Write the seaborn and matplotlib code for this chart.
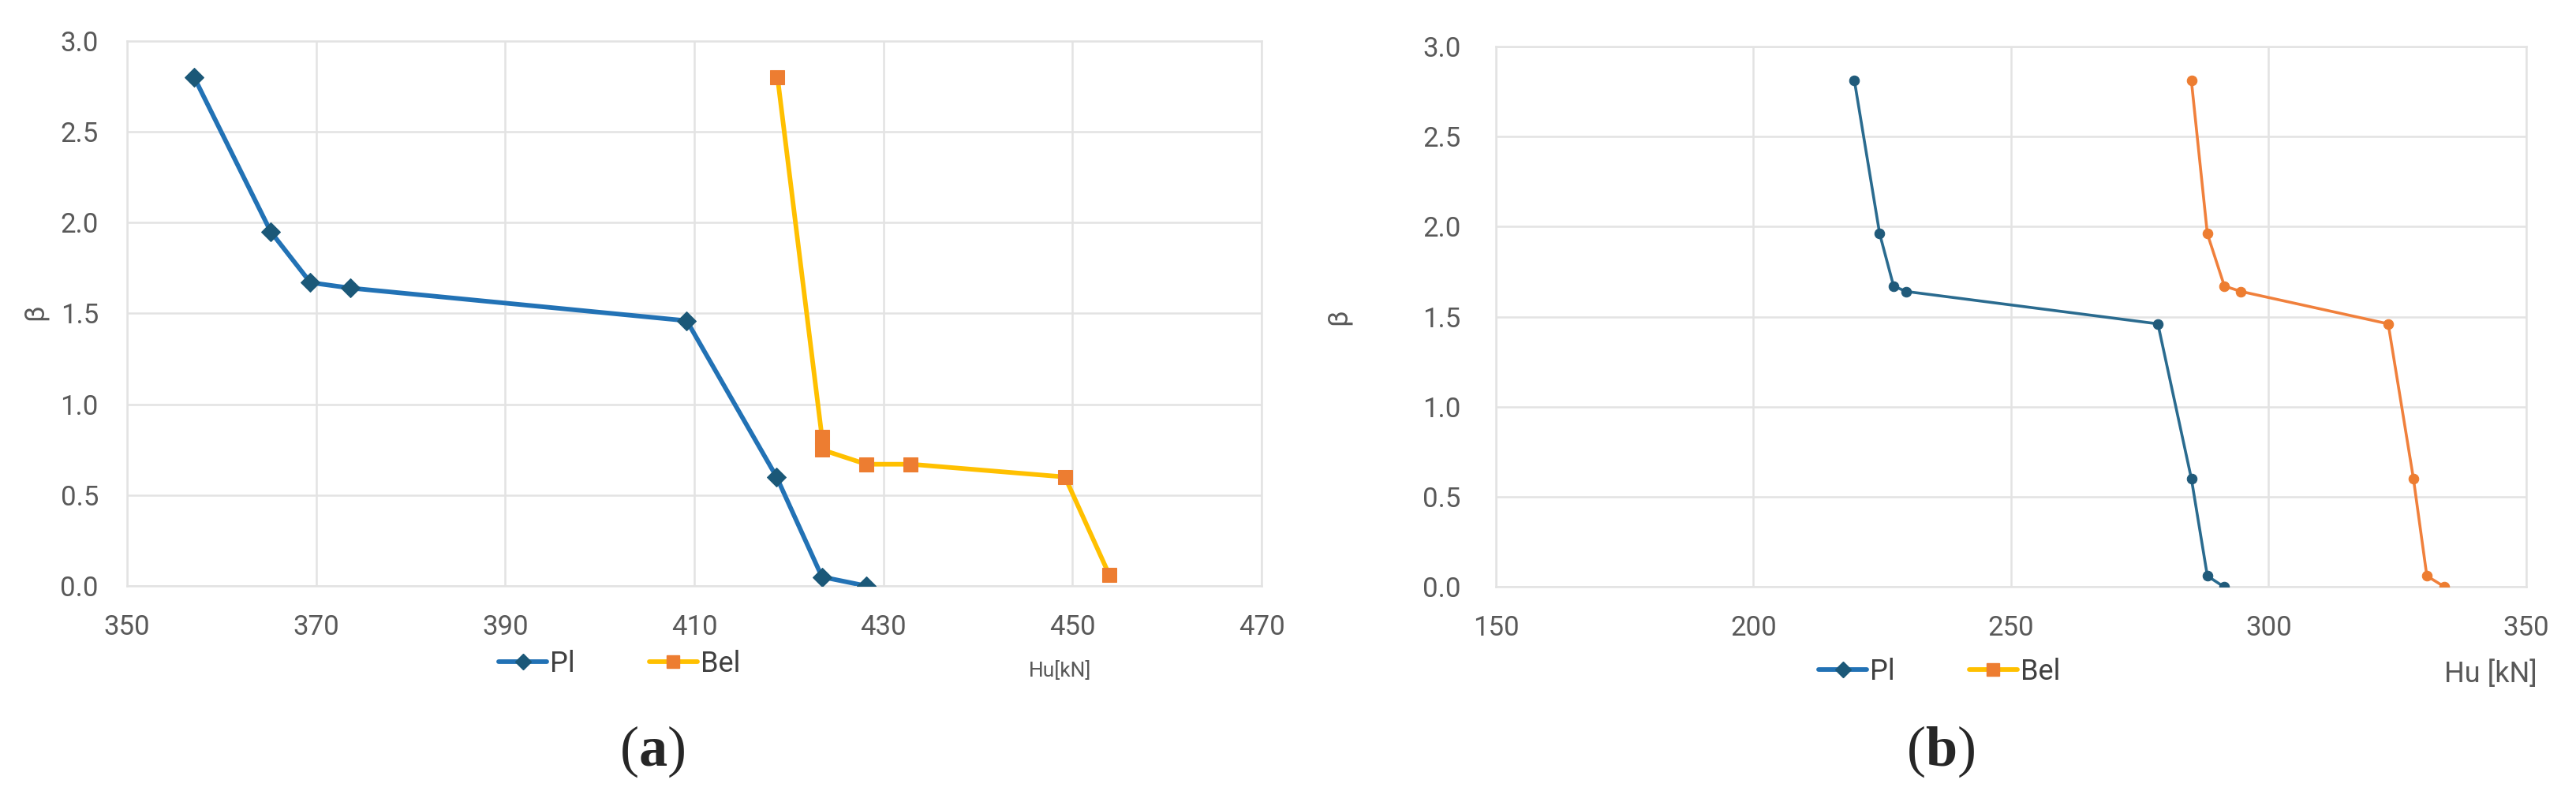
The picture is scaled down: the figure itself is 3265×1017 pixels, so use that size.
import numpy as np
import pandas as pd
import matplotlib
matplotlib.use("Agg")
import matplotlib.pyplot as plt
import seaborn as sns
from matplotlib.lines import Line2D

sns.set_style("white")
plt.rcParams["font.family"] = ["Liberation Sans Narrow", "Roboto", "DejaVu Sans"]
plt.rcParams["mathtext.fontset"] = "custom"
plt.rcParams["mathtext.rm"] = "Liberation Serif"
plt.rcParams["mathtext.bf"] = "Liberation Serif:bold"

# %% Datos ----------------------------------------------------------------------
# (a)
hu_pl_a = [357.1, 365.2, 369.4, 373.6, 409.2, 418.7, 423.5, 428.2]
beta_pl_a = [2.80, 1.95, 1.67, 1.64, 1.46, 0.60, 0.05, 0.00]
hu_bel_a = [418.8, 423.5, 423.5, 428.2, 432.9, 449.2, 453.9]
beta_bel_a = [2.80, 0.82, 0.75, 0.67, 0.67, 0.60, 0.06]

# (b)
hu_pl_b = [219.6, 224.5, 227.2, 229.6, 278.5, 285.0, 288.1, 291.3]
beta_pl_b = [2.81, 1.96, 1.67, 1.64, 1.46, 0.60, 0.06, 0.00]
hu_bel_b = [285.0, 288.1, 291.4, 294.6, 323.2, 328.1, 330.7, 334.1]
beta_bel_b = [2.81, 1.96, 1.67, 1.64, 1.46, 0.60, 0.06, 0.00]

y_ticks = [0.0, 0.5, 1.0, 1.5, 2.0, 2.5, 3.0]
x_ticks_a = [350, 370, 390, 410, 430, 450, 470]
x_ticks_b = [150, 200, 250, 300, 350]

GRIS_GRID = "#e3e3e3"
GRIS_TXT = "#595959"

fig = plt.figure(figsize=(32.66, 10.17), dpi=100)
ax_a = fig.add_axes([0.0493, 0.2694, 0.4403, 0.6795])
ax_b = fig.add_axes([0.5805, 0.2684, 0.3999, 0.6736])


def estilo_ejes(ax, xticks, xlim):
    ax.set_xlim(*xlim)
    ax.set_ylim(0, 3.0)
    ax.set_xticks(xticks)
    ax.set_yticks(y_ticks)
    ax.set_yticklabels([f"{v:.1f}" for v in y_ticks])
    ax.grid(True, color=GRIS_GRID, linewidth=1.8)
    for s in ax.spines.values():
        s.set_color(GRIS_GRID)
        s.set_linewidth(1.8)
    ax.tick_params(axis="both", length=0, labelsize=25, labelcolor=GRIS_TXT)
    ax.tick_params(axis="x", pad=26)
    ax.set_xlabel("")
    ax.set_ylabel("")


# %% (a) ---------------------------------------------------------------------
sns.lineplot(x=hu_pl_a, y=beta_pl_a, ax=ax_a, sort=False, estimator=None,
             color="#2272b5", linewidth=4.2, marker="D", markersize=12,
             markerfacecolor="#1b5878", markeredgecolor="#1b5878", zorder=3)
sns.lineplot(x=hu_bel_a, y=beta_bel_a, ax=ax_a, sort=False, estimator=None,
             color="#ffc000", linewidth=4.2, marker="s", markersize=13,
             markerfacecolor="#ed7d31", markeredgecolor="#ed7d31", zorder=3)
estilo_ejes(ax_a, x_ticks_a, (350, 470))
ax_a.tick_params(axis="y", pad=26)

# %% (b) ---------------------------------------------------------------------
sns.lineplot(x=hu_pl_b, y=beta_pl_b, ax=ax_b, sort=False, estimator=None,
             color="#2a6b8f", linewidth=2.6, marker="o", markersize=9,
             markerfacecolor="#205a7a", markeredgecolor="#205a7a", zorder=3)
sns.lineplot(x=hu_bel_b, y=beta_bel_b, ax=ax_b, sort=False, estimator=None,
             color="#f0803c", linewidth=2.6, marker="o", markersize=9,
             markerfacecolor="#ed7d31", markeredgecolor="#ed7d31", zorder=3)
estilo_ejes(ax_b, x_ticks_b, (150, 350))
ax_b.tick_params(axis="y", pad=32)

# Etiquetas de ejes
fig.text(44 / 3266, 1 - 396 / 1017, "β", rotation=90, ha="center", va="center",
         fontsize=25, color=GRIS_TXT)
fig.text(1696 / 3266, 1 - 402 / 1017, "β", rotation=90, ha="center", va="center",
         fontsize=25, color=GRIS_TXT)
fig.text(1344 / 3266, 1 - 850 / 1017, "Hu[kN]", ha="center", va="center",
         fontsize=19, color=GRIS_TXT)
fig.text(3157 / 3266, 1 - 855 / 1017, "Hu [kN]", ha="center", va="center",
         fontsize=26, color=GRIS_TXT)

# Leyendas (mismo estilo en ambos paneles)
handles = [
    Line2D([], [], color="#2272b5", linewidth=4.2, marker="D", markersize=10,
           markerfacecolor="#1b5878", markeredgecolor="#1b5878"),
    Line2D([], [], color="#ffc000", linewidth=4.2, marker="s", markersize=12,
           markerfacecolor="#ed7d31", markeredgecolor="#ed7d31"),
]
for ax, xc, yc in [(ax_a, 785 / 3266, 1 - 842 / 1017),
                   (ax_b, 2458 / 3266, 1 - 852 / 1017)]:
    fig.legend(handles, ["Pl", "Bel"], loc="center",
               bbox_to_anchor=(xc, yc), ncol=2, frameon=False,
               fontsize=26, labelcolor="#404040", handlelength=1.7,
               handletextpad=0.1, columnspacing=2.6)

# Subtítulos
fig.text(827 / 3266, 1 - 953 / 1017, r"($\mathbf{a}$)", ha="center",
         va="center", fontsize=52, family="Liberation Serif")
fig.text(2460 / 3266, 1 - 953 / 1017, r"($\mathbf{b}$)", ha="center",
         va="center", fontsize=52, family="Liberation Serif")

fig.savefig("out.png", dpi=100, facecolor="white")
